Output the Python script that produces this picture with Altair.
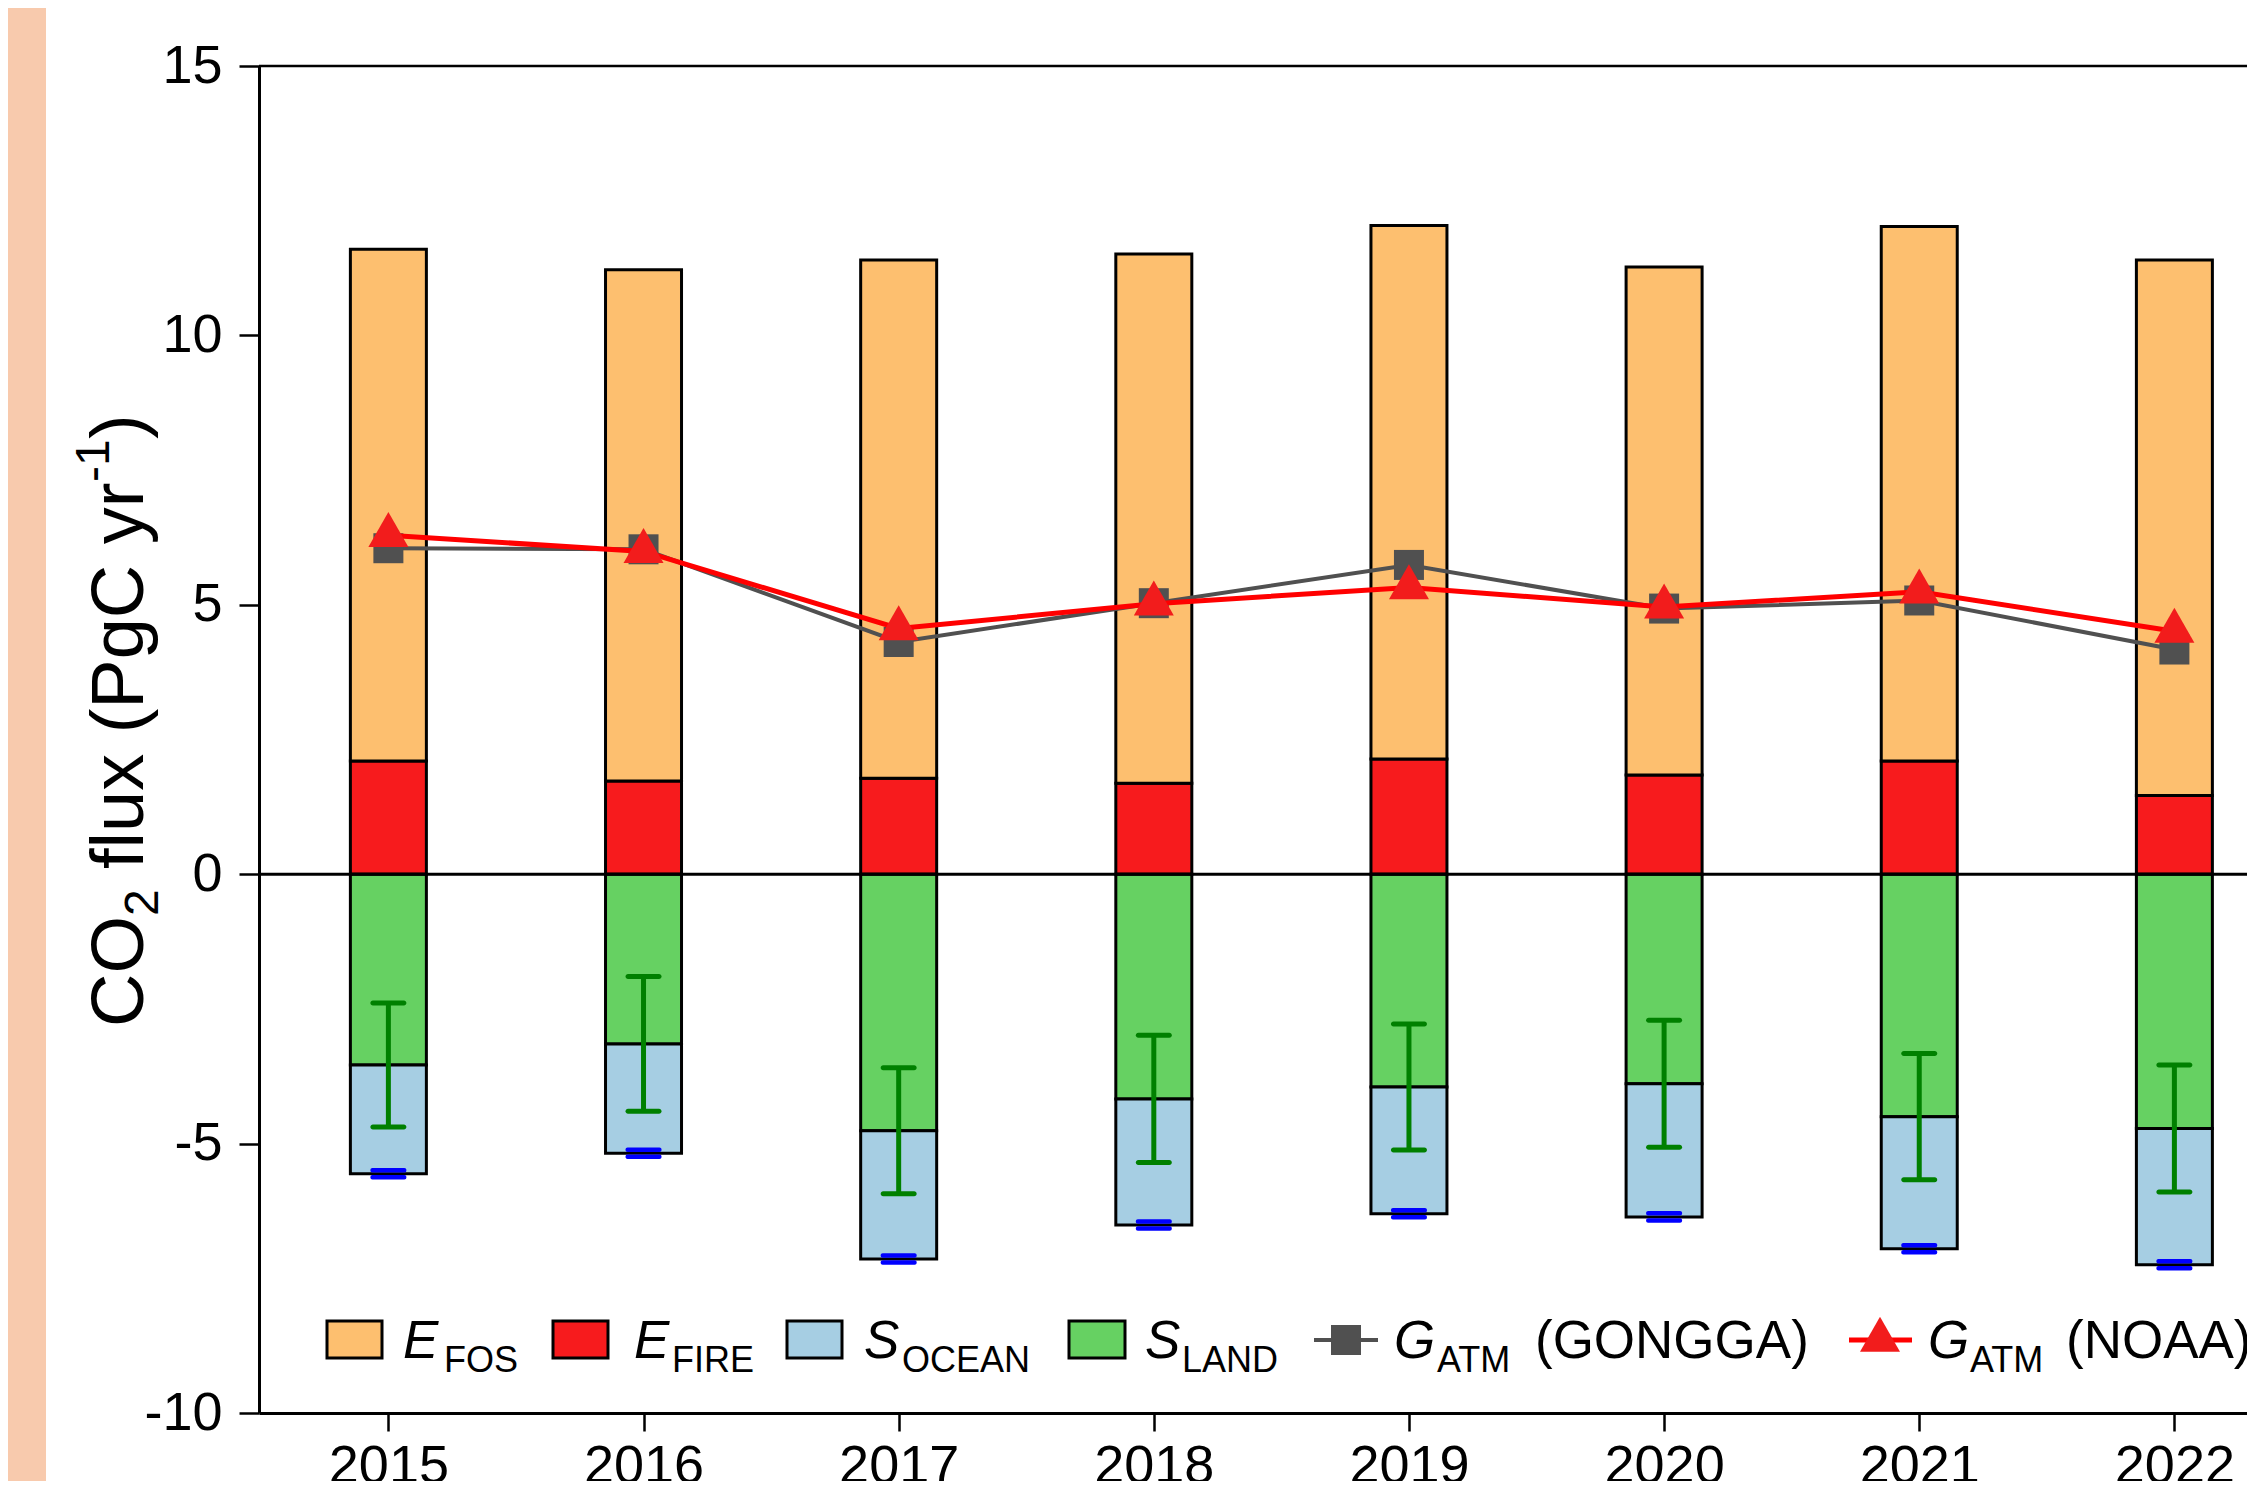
import altair as alt
import pandas as pd

# ---------------- data ----------------
years = [2015, 2016, 2017, 2018, 2019, 2020, 2021, 2022]
e_fos = [9.50, 9.49, 9.62, 9.82, 9.90, 9.43, 9.92, 9.94]
e_fire = [2.10, 1.73, 1.78, 1.69, 2.14, 1.84, 2.10, 1.46]
s_land = [-3.54, -3.15, -4.76, -4.17, -3.95, -3.89, -4.50, -4.72]
s_ocean = [-2.02, -2.03, -2.38, -2.34, -2.35, -2.47, -2.45, -2.53]
s_land_err = [1.15, 1.25, 1.17, 1.18, 1.17, 1.18, 1.17, 1.18]
s_ocean_err = [0.065, 0.065, 0.065, 0.065, 0.065, 0.065, 0.065, 0.065]
g_gongga = [6.05, 6.03, 4.31, 5.03, 5.74, 4.93, 5.08, 4.17]
g_noaa = [6.29, 5.99, 4.56, 5.02, 5.32, 4.96, 5.24, 4.51]
y_ticks = [-10, -5, 0, 5, 10, 15]

C_FOS = "#FDBF6F"
C_FIRE = "#F71B1D"
C_OCEAN = "#A6CEE3"
C_LAND = "#66D162"
C_GONGGA = "#505050"
C_NOAA_LINE = "#FF0000"
C_NOAA_PT = "#F21C1C"
FONT = "Liberation Sans"
TRI = "M0,-1.167L1,0.583L-1,0.583Z"

# ---------------- tables ----------------
rows = []
for i, yr in enumerate(years):
    rows.append(dict(year=yr, lo=0.0, hi=e_fire[i], col=C_FIRE))
    rows.append(dict(year=yr, lo=e_fire[i], hi=e_fire[i] + e_fos[i], col=C_FOS))
    rows.append(dict(year=yr, lo=s_land[i], hi=0.0, col=C_LAND))
    rows.append(dict(year=yr, lo=s_land[i] + s_ocean[i], hi=s_land[i], col=C_OCEAN))
bars = pd.DataFrame(rows)

err = pd.DataFrame({
    "year": years,
    "land_lo": [l - e for l, e in zip(s_land, s_land_err)],
    "land_hi": [l + e for l, e in zip(s_land, s_land_err)],
    "oc_lo": [l + o - e for l, o, e in zip(s_land, s_ocean, s_ocean_err)],
    "oc_hi": [l + o + e for l, o, e in zip(s_land, s_ocean, s_ocean_err)],
})
gatm = pd.DataFrame({"year": years, "gongga": g_gongga, "noaa": g_noaa})
one = pd.DataFrame({"a": [0]})

xs = alt.Scale(domain=[2014.5125, 2022.265], nice=False, zero=False)
ys = alt.Scale(domain=[-10, 15], nice=False, zero=False)

xaxis = alt.Axis(values=years, format="d", title=None, grid=False,
                 tickSize=18, tickWidth=2.5, tickColor="black",
                 domainColor="black", domainWidth=3,
                 labelFont=FONT, labelFontSize=54, labelColor="black",
                 labelPadding=8, labelFlush=False, labelOverlap=False)
yaxis = alt.Axis(values=y_ticks, labelExpr="'' + datum.value", title=None, grid=False,
                 tickSize=20, tickWidth=2.5, tickColor="black",
                 domainColor="black", domainWidth=3,
                 labelFont=FONT, labelFontSize=54, labelColor="black",
                 labelPadding=17, labelFlush=False, labelOverlap=False)

X = alt.X("year:Q", scale=xs, axis=xaxis)

strip = alt.Chart(one).mark_rect(color="#F8CAAD").encode(
    x=alt.value(-251), x2=alt.value(-213), y=alt.value(-58), y2=alt.value(1415))

bar_layer = alt.Chart(bars).mark_bar(size=76, stroke="black", strokeWidth=3).encode(
    x=X,
    y=alt.Y("lo:Q", scale=ys, axis=yaxis),
    y2="hi:Q",
    color=alt.Color("col:N", scale=None),
)

zero_rule = alt.Chart(one).mark_rule(color="black", strokeWidth=3).encode(y=alt.datum(0))
top_rule = alt.Chart(one).mark_rule(color="black", strokeWidth=2.5).encode(y=alt.datum(15))

land_bar = alt.Chart(err).mark_rule(color="#008000", strokeWidth=5).encode(
    x="year:Q", y="land_lo:Q", y2="land_hi:Q")
land_cap_lo = alt.Chart(err).mark_tick(orient="horizontal", size=36, thickness=5,
                                       color="#008000", cornerRadius=2.5, opacity=1).encode(
    x="year:Q", y="land_lo:Q")
land_cap_hi = alt.Chart(err).mark_tick(orient="horizontal", size=36, thickness=5,
                                       color="#008000", cornerRadius=2.5, opacity=1).encode(
    x="year:Q", y="land_hi:Q")
oc_cap_lo = alt.Chart(err).mark_tick(orient="horizontal", size=36, thickness=4.5,
                                     color="#0000FF", cornerRadius=2, opacity=1).encode(
    x="year:Q", y="oc_lo:Q")
oc_cap_hi = alt.Chart(err).mark_tick(orient="horizontal", size=36, thickness=4.5,
                                     color="#0000FF", cornerRadius=2, opacity=1).encode(
    x="year:Q", y="oc_hi:Q")

g_line = alt.Chart(gatm).mark_line(color=C_GONGGA, strokeWidth=4).encode(x="year:Q", y="gongga:Q")
g_pts = alt.Chart(gatm).mark_point(shape="square", filled=True, size=900, color=C_GONGGA,
                                   opacity=1).encode(x="year:Q", y="gongga:Q")
n_line = alt.Chart(gatm).mark_line(color=C_NOAA_LINE, strokeWidth=5).encode(x="year:Q", y="noaa:Q")
n_pts = alt.Chart(gatm).mark_point(shape=TRI, filled=True, size=1600, color=C_NOAA_PT,
                                   opacity=1).encode(x="year:Q", y="noaa:Q")


# ---------------- helpers for legend / title ----------------
def txt(s, x, y, size, italic=False, angle=0):
    kw = dict(text=s, align="left", baseline="alphabetic", font=FONT, fontSize=size,
              color="black")
    if italic:
        kw["fontStyle"] = "italic"
    if angle:
        kw["angle"] = angle
    return alt.Chart(one).mark_text(**kw).encode(x=alt.value(x), y=alt.value(y))


def swatch(x0, x1, col):
    return alt.Chart(one).mark_rect(color=col, stroke="black", strokeWidth=3).encode(
        x=alt.value(x0), x2=alt.value(x1), y=alt.value(1255), y2=alt.value(1292))


LB, SB = 1292, 1306   # baselines: main text and subscript
LM = 1274             # legend marker centre
legend = [
    swatch(68, 123, C_FOS), txt("E", 144, LB, 53, True), txt("FOS", 185, SB, 36),
    swatch(294, 349, C_FIRE), txt("E", 375, LB, 53, True), txt("FIRE", 413, SB, 36),
    swatch(528, 583, C_OCEAN), txt("S", 605, LB, 53, True), txt("OCEAN", 643, SB, 36),
    swatch(810, 866, C_LAND), txt("S", 886, LB, 53, True), txt("LAND", 923, SB, 36),
    alt.Chart(one).mark_rule(color=C_GONGGA, strokeWidth=4).encode(
        x=alt.value(1055), x2=alt.value(1119), y=alt.value(LM)),
    alt.Chart(one).mark_point(shape="square", filled=True, size=900, color=C_GONGGA,
                              opacity=1).encode(x=alt.value(1087), y=alt.value(LM)),
    txt("G", 1135, LB, 53, True), txt("ATM", 1178, SB, 36), txt("(GONGGA)", 1276, LB, 53),
    alt.Chart(one).mark_rule(color=C_NOAA_LINE, strokeWidth=5).encode(
        x=alt.value(1590), x2=alt.value(1653), y=alt.value(LM)),
    alt.Chart(one).mark_point(shape=TRI, filled=True, size=1600, color=C_NOAA_PT,
                              opacity=1).encode(x=alt.value(1621), y=alt.value(LM)),
    txt("G", 1669, LB, 53, True), txt("ATM", 1711, SB, 36), txt("(NOAA)", 1807, LB, 53),
]

# rotated y title, built from parts so that the sub/superscripts are real
TX = -116
ytitle = [
    txt("CO", TX, 961, 74, angle=270),
    txt("2", TX + 15, 850, 48, angle=270),
    txt("flux (PgC yr", TX, 803, 74, angle=270),
    txt("-1", TX - 34, 416, 48, angle=270),
    txt(")", TX, 373, 74, angle=270),
]

chart = alt.layer(
    bar_layer, strip, zero_rule, top_rule,
    land_bar, land_cap_lo, land_cap_hi, oc_cap_lo, oc_cap_hi,
    g_line, g_pts, n_line, n_pts,
    *legend, *ytitle,
).properties(
    width=1988, height=1347,
    padding={"left": 251, "top": 58, "right": 0, "bottom": 68},
    autosize=alt.AutoSizeParams(type="none"),
    background="white",
).configure_view(stroke=None)

chart.save("out.html", embed_options={"renderer": "svg", "actions": False})
